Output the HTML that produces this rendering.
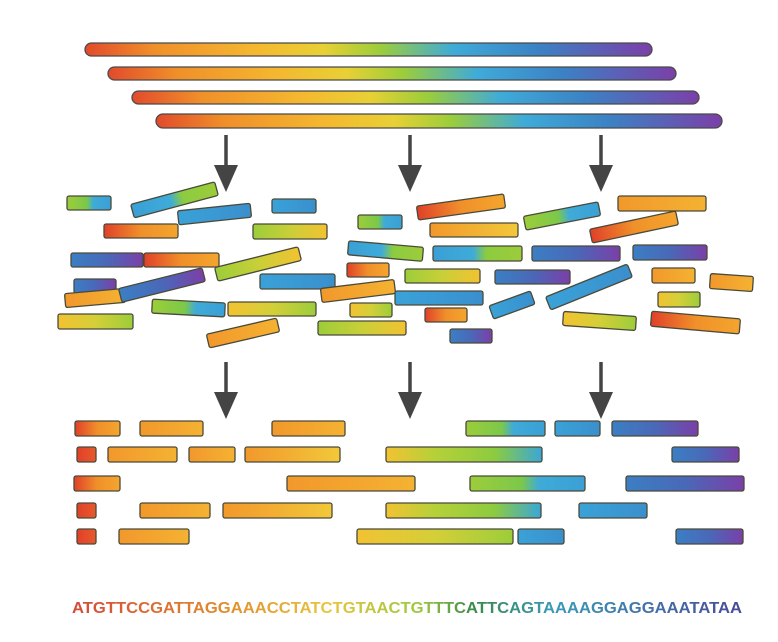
<!DOCTYPE html>
<html><head><meta charset="utf-8"><style>html,body{margin:0;padding:0;background:#fff}svg{display:block}</style></head>
<body>
<svg width="778" height="642" viewBox="0 0 778 642" xmlns="http://www.w3.org/2000/svg">
<defs>
<g id="arr"><line x1="0" y1="0" x2="0" y2="40" stroke="#444" stroke-width="3.5"/><path d="M-12 30 L12 30 L0 57 Z" fill="#444"/></g>
<linearGradient id="rainbow"><stop offset="0" stop-color="#e24a2c"/><stop offset=".12" stop-color="#f08f2a"/><stop offset=".3" stop-color="#f4b830"/><stop offset=".42" stop-color="#e8d035"/><stop offset=".52" stop-color="#9ccd3a"/><stop offset=".65" stop-color="#3fabd8"/><stop offset=".8" stop-color="#3b82c4"/><stop offset="1" stop-color="#7b3fa8"/></linearGradient>
<linearGradient id="ro"><stop offset="0" stop-color="#e0402a"/><stop offset=".5" stop-color="#f0902a"/><stop offset="1" stop-color="#f4a52e"/></linearGradient>
<linearGradient id="r"><stop offset="0" stop-color="#e0402a"/><stop offset="1" stop-color="#e85a2a"/></linearGradient>
<linearGradient id="o"><stop offset="0" stop-color="#f2982c"/><stop offset="1" stop-color="#f4b232"/></linearGradient>
<linearGradient id="oy"><stop offset="0" stop-color="#f2982c"/><stop offset="1" stop-color="#f2c83a"/></linearGradient>
<linearGradient id="yg"><stop offset="0" stop-color="#f2c232"/><stop offset=".5" stop-color="#d4cf38"/><stop offset="1" stop-color="#9ccd3a"/></linearGradient>
<linearGradient id="gy"><stop offset="0" stop-color="#9ccd3a"/><stop offset=".5" stop-color="#c9cf38"/><stop offset="1" stop-color="#f2c232"/></linearGradient>
<linearGradient id="gb"><stop offset="0" stop-color="#9ccd3a"/><stop offset=".45" stop-color="#7cc84a"/><stop offset=".6" stop-color="#3fabd8"/><stop offset="1" stop-color="#3a9fd6"/></linearGradient>
<linearGradient id="bg"><stop offset="0" stop-color="#3a9fd6"/><stop offset=".45" stop-color="#3fabd8"/><stop offset=".6" stop-color="#8ccb40"/><stop offset="1" stop-color="#9ccd3a"/></linearGradient>
<linearGradient id="b"><stop offset="0" stop-color="#3aa2d8"/><stop offset="1" stop-color="#3a8fcc"/></linearGradient>
<linearGradient id="bp"><stop offset="0" stop-color="#3b7fc4"/><stop offset=".5" stop-color="#4a68b8"/><stop offset="1" stop-color="#7b3fa8"/></linearGradient>
<linearGradient id="ygb"><stop offset="0" stop-color="#f2c232"/><stop offset=".3" stop-color="#b8d038"/><stop offset=".7" stop-color="#8ccb40"/><stop offset="1" stop-color="#3aa6d8"/></linearGradient>
<linearGradient id="txt" gradientUnits="userSpaceOnUse" x1="72" x2="742" y1="0" y2="0"><stop offset="0" stop-color="#d44a3a"/><stop offset=".22" stop-color="#e08a2e"/><stop offset=".38" stop-color="#e8c440"/><stop offset=".52" stop-color="#9cc840"/><stop offset=".6" stop-color="#3a8a4a"/><stop offset=".72" stop-color="#3a9ab8"/><stop offset="1" stop-color="#4a4a9a"/></linearGradient>
</defs>
<g stroke="#4a4a4a" stroke-width="1.3">
<rect x="85" y="43" width="567" height="13" rx="6.5" fill="url(#rainbow)"/>
<rect x="108" y="67" width="568" height="13" rx="6.5" fill="url(#rainbow)"/>
<rect x="132" y="91" width="567" height="13" rx="6.5" fill="url(#rainbow)"/>
<rect x="156" y="114" width="566" height="14" rx="7" fill="url(#rainbow)"/>
</g>
<use href="#arr" x="226" y="135"/><use href="#arr" x="410" y="135"/><use href="#arr" x="601" y="135"/>
<use href="#arr" x="226" y="362"/><use href="#arr" x="410" y="362"/><use href="#arr" x="601" y="362"/>
<g stroke="#4a4a3a" stroke-width="1.3">
<rect x="67" y="196" width="44" height="14" rx="2" fill="url(#gb)"/>
<rect x="131" y="193" width="87" height="14" rx="2" fill="url(#bg)" transform="rotate(-15 174 200)"/>
<rect x="104" y="224" width="74" height="14" rx="2" fill="url(#ro)"/>
<rect x="178" y="207" width="73" height="14" rx="2" fill="url(#b)" transform="rotate(-6 215 214)"/>
<rect x="272" y="199" width="44" height="14" rx="2" fill="url(#b)"/>
<rect x="253" y="224" width="74" height="15" rx="2" fill="url(#gy)"/>
<rect x="71" y="253" width="72" height="14" rx="2" fill="url(#bp)"/>
<rect x="144" y="253" width="75" height="14" rx="2" fill="url(#ro)"/>
<rect x="260" y="274" width="75" height="15" rx="2" fill="url(#b)"/>
<rect x="74" y="279" width="42" height="14" rx="2" fill="url(#bp)"/>
<rect x="65" y="291" width="60" height="14" rx="2" fill="url(#o)" transform="rotate(-5 95 298)"/>
<rect x="119" y="278" width="86" height="14" rx="2" fill="url(#bp)" transform="rotate(-14 162 285)"/>
<rect x="215" y="257" width="86" height="14" rx="2" fill="url(#gy)" transform="rotate(-14 258 264)"/>
<rect x="152" y="301" width="73" height="14" rx="2" fill="url(#gb)" transform="rotate(3 188 308)"/>
<rect x="228" y="302" width="88" height="14" rx="2" fill="url(#yg)"/>
<rect x="58" y="314" width="75" height="15" rx="2" fill="url(#yg)"/>
<rect x="207" y="326" width="72" height="14" rx="2" fill="url(#o)" transform="rotate(-13 243 333)"/>
<rect x="321" y="284" width="74" height="14" rx="2" fill="url(#o)" transform="rotate(-7 358 291)"/>
<rect x="318" y="321" width="88" height="14" rx="2" fill="url(#gy)"/>
<rect x="350" y="303" width="42" height="14" rx="2" fill="url(#yg)"/>
<rect x="347" y="263" width="42" height="14" rx="2" fill="url(#ro)"/>
<rect x="358" y="215" width="44" height="14" rx="2" fill="url(#gb)"/>
<rect x="348" y="244" width="75" height="14" rx="2" fill="url(#bg)" transform="rotate(5 385 251)"/>
<rect x="417" y="200" width="88" height="14" rx="2" fill="url(#ro)" transform="rotate(-8 461 207)"/>
<rect x="430" y="223" width="88" height="14" rx="2" fill="url(#oy)"/>
<rect x="433" y="246" width="89" height="15" rx="2" fill="url(#bg)"/>
<rect x="405" y="269" width="75" height="14" rx="2" fill="url(#gy)"/>
<rect x="395" y="291" width="88" height="14" rx="2" fill="url(#b)"/>
<rect x="425" y="308" width="42" height="14" rx="2" fill="url(#ro)"/>
<rect x="450" y="329" width="42" height="14" rx="2" fill="url(#bp)"/>
<rect x="495" y="270" width="75" height="14" rx="2" fill="url(#bp)"/>
<rect x="490" y="298" width="44" height="14" rx="2" fill="url(#b)" transform="rotate(-20 512 305)"/>
<rect x="524" y="209" width="76" height="14" rx="2" fill="url(#gb)" transform="rotate(-11 562 216)"/>
<rect x="532" y="246" width="88" height="15" rx="2" fill="url(#bp)"/>
<rect x="545" y="280" width="88" height="14" rx="2" fill="url(#b)" transform="rotate(-22 589 287)"/>
<rect x="563" y="314" width="73" height="14" rx="2" fill="url(#yg)" transform="rotate(4 600 321)"/>
<rect x="618" y="196" width="88" height="15" rx="2" fill="url(#o)"/>
<rect x="590" y="220" width="88" height="14" rx="2" fill="url(#ro)" transform="rotate(-12 634 227)"/>
<rect x="633" y="245" width="74" height="15" rx="2" fill="url(#bp)"/>
<rect x="652" y="268" width="43" height="15" rx="2" fill="url(#o)"/>
<rect x="710" y="275" width="43" height="15" rx="2" fill="url(#o)" transform="rotate(4 731 282)"/>
<rect x="658" y="292" width="42" height="15" rx="2" fill="url(#yg)"/>
<rect x="651" y="315" width="89" height="15" rx="2" fill="url(#ro)" transform="rotate(5 695 322)"/>
</g>
<g stroke="#4a4a3a" stroke-width="1.3">
<rect x="75" y="421" width="45" height="15" rx="2" fill="url(#ro)"/>
<rect x="140" y="421" width="63" height="15" rx="2" fill="url(#o)"/>
<rect x="272" y="421" width="73" height="15" rx="2" fill="url(#o)"/>
<rect x="466" y="421" width="79" height="15" rx="2" fill="url(#gb)"/>
<rect x="555" y="421" width="45" height="15" rx="2" fill="url(#b)"/>
<rect x="612" y="421" width="86" height="15" rx="2" fill="url(#bp)"/>
<rect x="77" y="447" width="19" height="15" rx="2" fill="url(#r)"/>
<rect x="108" y="447" width="69" height="15" rx="2" fill="url(#o)"/>
<rect x="189" y="447" width="46" height="15" rx="2" fill="url(#o)"/>
<rect x="245" y="447" width="95" height="15" rx="2" fill="url(#oy)"/>
<rect x="386" y="447" width="156" height="15" rx="2" fill="url(#ygb)"/>
<rect x="672" y="447" width="67" height="15" rx="2" fill="url(#bp)"/>
<rect x="74" y="476" width="46" height="15" rx="2" fill="url(#ro)"/>
<rect x="287" y="476" width="128" height="15" rx="2" fill="url(#o)"/>
<rect x="470" y="476" width="115" height="15" rx="2" fill="url(#gb)"/>
<rect x="626" y="476" width="118" height="15" rx="2" fill="url(#bp)"/>
<rect x="77" y="503" width="19" height="15" rx="2" fill="url(#r)"/>
<rect x="140" y="503" width="70" height="15" rx="2" fill="url(#o)"/>
<rect x="223" y="503" width="109" height="15" rx="2" fill="url(#oy)"/>
<rect x="386" y="503" width="155" height="15" rx="2" fill="url(#ygb)"/>
<rect x="579" y="503" width="68" height="15" rx="2" fill="url(#b)"/>
<rect x="77" y="529" width="19" height="15" rx="2" fill="url(#r)"/>
<rect x="119" y="529" width="70" height="15" rx="2" fill="url(#o)"/>
<rect x="357" y="529" width="156" height="15" rx="2" fill="url(#yg)"/>
<rect x="518" y="529" width="46" height="15" rx="2" fill="url(#b)"/>
<rect x="676" y="529" width="67" height="15" rx="2" fill="url(#bp)"/>
</g>
<text x="72" y="613" textLength="670" lengthAdjust="spacingAndGlyphs" font-family="Liberation Sans, sans-serif" font-size="16" font-weight="bold" fill="url(#txt)">ATGTTCCGATTAGGAAACCTATCTGTAACTGTTTCATTCAGTAAAAGGAGGAAATATAA</text>
</svg>
</body></html>
